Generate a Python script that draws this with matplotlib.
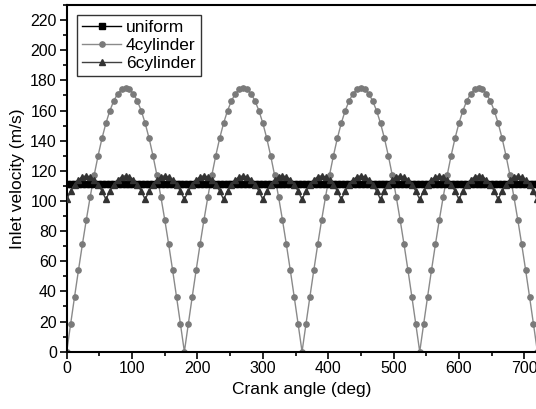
import numpy as np
import matplotlib
matplotlib.use("Agg")
import matplotlib.pyplot as plt

plt.rcParams['font.family'] = ['Liberation Sans', 'DejaVu Sans']

# Crank angle samples (deg), every 6 degrees
crank_angle = np.arange(0, 721, 6)

uniform = [111.4] * 121

cyl4 = [
    0.0, 18.3, 36.4, 54.1, 71.2, 87.5, 102.9, 117.1, 130.0, 141.6, 151.6, 159.9, 166.4, 171.2, 174.0, 175.0,
    174.0, 171.2, 166.4, 159.9, 151.6, 141.6, 130.0, 117.1, 102.9, 87.5, 71.2, 54.1, 36.4, 18.3, 0.0,
    18.3, 36.4, 54.1, 71.2, 87.5, 102.9, 117.1, 130.0, 141.6, 151.6, 159.9, 166.4, 171.2, 174.0, 175.0,
    174.0, 171.2, 166.4, 159.9, 151.6, 141.6, 130.0, 117.1, 102.9, 87.5, 71.2, 54.1, 36.4, 18.3, 0.0,
    18.3, 36.4, 54.1, 71.2, 87.5, 102.9, 117.1, 130.0, 141.6, 151.6, 159.9, 166.4, 171.2, 174.0, 175.0,
    174.0, 171.2, 166.4, 159.9, 151.6, 141.6, 130.0, 117.1, 102.9, 87.5, 71.2, 54.1, 36.4, 18.3, 0.0,
    18.3, 36.4, 54.1, 71.2, 87.5, 102.9, 117.1, 130.0, 141.6, 151.6, 159.9, 166.4, 171.2, 174.0, 175.0,
    174.0, 171.2, 166.4, 159.9, 151.6, 141.6, 130.0, 117.1, 102.9, 87.5, 71.2, 54.1, 36.4, 18.3, 0.0,
]

cyl6 = [
    101.0, 106.6, 110.9, 114.1, 116.0, 116.7, 116.0, 114.1, 110.9, 106.6,
    101.0, 106.6, 110.9, 114.1, 116.0, 116.7, 116.0, 114.1, 110.9, 106.6,
    101.0, 106.6, 110.9, 114.1, 116.0, 116.7, 116.0, 114.1, 110.9, 106.6,
    101.0, 106.6, 110.9, 114.1, 116.0, 116.7, 116.0, 114.1, 110.9, 106.6,
    101.0, 106.6, 110.9, 114.1, 116.0, 116.7, 116.0, 114.1, 110.9, 106.6,
    101.0, 106.6, 110.9, 114.1, 116.0, 116.7, 116.0, 114.1, 110.9, 106.6,
    101.0, 106.6, 110.9, 114.1, 116.0, 116.7, 116.0, 114.1, 110.9, 106.6,
    101.0, 106.6, 110.9, 114.1, 116.0, 116.7, 116.0, 114.1, 110.9, 106.6,
    101.0, 106.6, 110.9, 114.1, 116.0, 116.7, 116.0, 114.1, 110.9, 106.6,
    101.0, 106.6, 110.9, 114.1, 116.0, 116.7, 116.0, 114.1, 110.9, 106.6,
    101.0, 106.6, 110.9, 114.1, 116.0, 116.7, 116.0, 114.1, 110.9, 106.6,
    101.0, 106.6, 110.9, 114.1, 116.0, 116.7, 116.0, 114.1, 110.9, 106.6,
    101.0,
]

labels = ["uniform", "4cylinder", "6cylinder"]

fig = plt.figure(figsize=(5.36, 4.09), dpi=100)
ax = fig.add_axes([66.7 / 536, (409 - 351.7) / 409, 470.7 / 536, 346.7 / 409])

ax.plot(crank_angle, uniform, color='black', lw=1.0, marker='s', markersize=3.8,
        markerfacecolor='black', markeredgecolor='black', label=labels[0], zorder=3)
ax.plot(crank_angle, cyl4, color='#8a8a8a', lw=1.0, marker='o', markersize=3.8,
        markerfacecolor='#7a7a7a', markeredgecolor='#7a7a7a', label=labels[1], zorder=2)
ax.plot(crank_angle, cyl6, color='#404040', lw=1.0, marker='^', markersize=4.2,
        markerfacecolor='#333333', markeredgecolor='#333333', label=labels[2], zorder=4)

ax.set_xticks(np.arange(0, 701, 100))
ax.set_xticks(np.arange(50, 701, 100), minor=True)
ax.set_yticks(np.arange(0, 221, 20))
ax.set_yticks(np.arange(10, 231, 20), minor=True)
ax.set_xlim(0, 720)
ax.set_ylim(0, 230)
ax.tick_params(which='major', direction='out', length=5, width=1.2, labelsize=11.5, pad=2)
ax.tick_params(which='minor', direction='out', length=3, width=1.2)
for s in ax.spines.values():
    s.set_linewidth(1.5)

ax.set_xlabel("Crank angle (deg)", fontsize=12.5, labelpad=4)
ax.set_ylabel("Inlet velocity (m/s)", fontsize=12.5, labelpad=4)

leg = ax.legend(loc='upper left', bbox_to_anchor=(0.0225, 0.972), borderaxespad=0,
                fontsize=12.5, frameon=True, fancybox=False, edgecolor='black',
                handlelength=2.2, handletextpad=0.3, labelspacing=0.15,
                borderpad=0.3, markerscale=1.0)
leg.get_frame().set_linewidth(1.0)

fig.savefig("out.png", dpi=100)
